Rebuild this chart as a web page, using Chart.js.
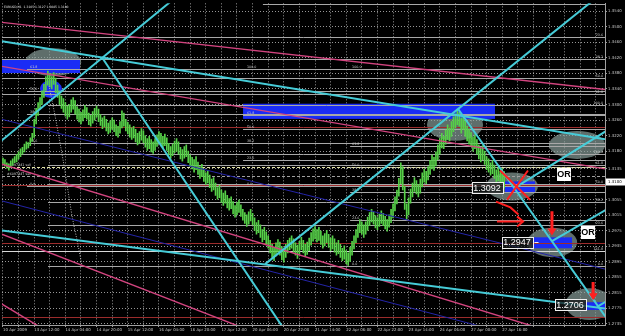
<!DOCTYPE html>
<html><head><meta charset="utf-8">
<script src="https://cdn.jsdelivr.net/npm/chart.js@4.4.1/dist/chart.umd.min.js"></script>
<style>html,body{margin:0;padding:0;background:#000;}canvas{display:block;}</style>
</head><body>
<canvas id="c" width="625" height="336"></canvas>
<script>
const title = 'EURUSD,H1  1.3105 1.3127 1.3085 1.3100';
const xTickLabels = ['10 Apr 2009','13 Apr 12:00','14 Apr 04:00','14 Apr 20:00','15 Apr 12:00','16 Apr 04:00','16 Apr 20:00','17 Apr 12:00','20 Apr 06:00','20 Apr 22:00','21 Apr 14:00','22 Apr 06:00','22 Apr 22:00','23 Apr 14:00','24 Apr 06:00','27 Apr 00:00','27 Apr 16:00'];
const yTickLabels = ['1.3540','1.3500','1.3460','1.3420','1.3380','1.3340','1.3300','1.3260','1.3220','1.3180','1.3135','1.3095','1.3055','1.3015','1.2975','1.2935','1.2895','1.2855','1.2815','1.2775','1.2735'];
const yTickValues = [1.3540,1.3500,1.3460,1.3420,1.3380,1.3340,1.3300,1.3260,1.3220,1.3180,1.3135,1.3095,1.3055,1.3015,1.2975,1.2935,1.2895,1.2855,1.2815,1.2775,1.2735];
const bidPrice = 1.3100;

// hourly bars (index 0 = 10 Apr 2009)
const highs = [
1.3162,1.3158,1.3150,1.3147,1.3155,1.3160,1.3166,1.3172,1.3178,1.3186,1.3190,1.3198,1.3204,1.3202,1.3214,1.3226,
1.3262,1.3290,1.3305,1.3318,1.3335,1.3352,1.3372,1.3386,1.3380,1.3372,1.3382,1.3368,1.3350,1.3335,1.3322,1.3315,
1.3305,1.3296,1.3300,1.3312,1.3318,1.3310,1.3295,1.3288,1.3280,1.3286,1.3298,1.3292,1.3278,1.3272,1.3282,1.3290,
1.3296,1.3288,1.3274,1.3266,1.3270,1.3262,1.3252,1.3258,1.3266,1.3260,1.3248,1.3244,1.3256,1.3284,1.3278,1.3262,
1.3254,1.3248,1.3240,1.3244,1.3236,1.3226,1.3230,1.3238,1.3232,1.3220,1.3212,1.3218,1.3210,1.3204,1.3212,1.3222,
1.3230,1.3226,1.3218,1.3224,1.3214,1.3200,1.3192,1.3198,1.3206,1.3212,1.3204,1.3190,1.3184,1.3192,1.3196,1.3180,
1.3170,1.3164,1.3158,1.3166,1.3152,1.3140,1.3146,1.3134,1.3124,1.3130,1.3118,1.3108,1.3112,1.3098,1.3086,1.3092,
1.3080,1.3072,1.3078,1.3066,1.3058,1.3062,1.3050,1.3040,1.3048,1.3054,1.3042,1.3030,1.3022,1.3016,1.3024,1.3030,
1.3020,1.3008,1.2996,1.3002,1.2990,1.2978,1.2984,1.2972,1.2962,1.2950,1.2940,1.2932,1.2944,1.2952,1.2946,1.2934,
1.2928,1.2940,1.2950,1.2956,1.2962,1.2954,1.2944,1.2938,1.2948,1.2958,1.2950,1.2940,1.2946,1.2956,1.2970,1.2980,
1.2986,1.2978,1.2984,1.2974,1.2962,1.2968,1.2976,1.2966,1.2956,1.2962,1.2954,1.2944,1.2950,1.2940,1.2930,1.2936,
1.2924,1.2918,1.2932,1.2948,1.2962,1.2978,1.2992,1.3004,1.2998,1.2990,1.2998,1.3010,1.3022,1.3030,1.3024,1.3014,
1.3008,1.3018,1.3026,1.3020,1.3012,1.3004,1.3016,1.3030,1.3044,1.3062,1.3080,1.3110,1.3150,1.3140,1.3090,1.3044,
1.3060,1.3082,1.3098,1.3112,1.3104,1.3094,1.3108,1.3124,1.3134,1.3128,1.3140,1.3156,1.3170,1.3164,1.3178,1.3196,
1.3212,1.3226,1.3218,1.3234,1.3248,1.3240,1.3256,1.3268,1.3276,1.3288,1.3280,1.3266,1.3272,1.3258,1.3244,1.3236,
1.3228,1.3216,1.3222,1.3210,1.3196,1.3188,1.3194,1.3180,1.3166,1.3160,1.3150,1.3156,1.3144,1.3132,1.3138,1.3128,
1.3136,1.3127];
const lows = [
1.3148,1.3141,1.3136,1.3131,1.3138,1.3144,1.3150,1.3152,1.3160,1.3166,1.3172,1.3178,1.3185,1.3188,1.3194,1.3205,
1.3215,1.3250,1.3272,1.3288,1.3300,1.3318,1.3336,1.3350,1.3345,1.3340,1.3352,1.3330,1.3318,1.3300,1.3290,1.3280,
1.3270,1.3262,1.3268,1.3280,1.3288,1.3275,1.3262,1.3255,1.3250,1.3258,1.3266,1.3262,1.3248,1.3244,1.3252,1.3260,
1.3268,1.3256,1.3246,1.3238,1.3242,1.3232,1.3224,1.3228,1.3236,1.3230,1.3220,1.3216,1.3226,1.3240,1.3244,1.3232,
1.3224,1.3216,1.3210,1.3214,1.3204,1.3196,1.3200,1.3208,1.3202,1.3190,1.3182,1.3186,1.3178,1.3174,1.3182,1.3192,
1.3200,1.3196,1.3188,1.3194,1.3182,1.3170,1.3162,1.3168,1.3176,1.3180,1.3172,1.3160,1.3154,1.3162,1.3166,1.3150,
1.3140,1.3134,1.3126,1.3132,1.3120,1.3110,1.3114,1.3102,1.3094,1.3098,1.3086,1.3076,1.3080,1.3066,1.3056,1.3060,
1.3048,1.3040,1.3046,1.3034,1.3028,1.3032,1.3018,1.3010,1.3016,1.3022,1.3012,1.3002,1.2994,1.2986,1.2992,1.3000,
1.2990,1.2976,1.2966,1.2970,1.2958,1.2946,1.2952,1.2940,1.2930,1.2918,1.2906,1.2898,1.2910,1.2920,1.2912,1.2900,
1.2894,1.2906,1.2918,1.2926,1.2930,1.2920,1.2912,1.2904,1.2914,1.2926,1.2918,1.2908,1.2914,1.2924,1.2938,1.2948,
1.2954,1.2946,1.2950,1.2940,1.2930,1.2936,1.2944,1.2932,1.2924,1.2928,1.2920,1.2912,1.2916,1.2906,1.2898,1.2902,
1.2890,1.2886,1.2896,1.2912,1.2928,1.2944,1.2958,1.2970,1.2966,1.2958,1.2966,1.2976,1.2988,1.2998,1.2992,1.2982,
1.2978,1.2986,1.2994,1.2988,1.2980,1.2974,1.2984,1.2996,1.3008,1.3026,1.3044,1.3064,1.3096,1.3080,1.3030,1.3004,
1.3016,1.3046,1.3062,1.3076,1.3070,1.3062,1.3072,1.3088,1.3100,1.3096,1.3106,1.3120,1.3134,1.3130,1.3142,1.3158,
1.3172,1.3188,1.3186,1.3198,1.3210,1.3206,1.3218,1.3230,1.3240,1.3248,1.3244,1.3226,1.3236,1.3218,1.3206,1.3198,
1.3192,1.3180,1.3186,1.3172,1.3160,1.3152,1.3158,1.3146,1.3132,1.3126,1.3118,1.3122,1.3110,1.3100,1.3104,1.3094,
1.3098,1.3085];

// trend lines: [bar1, price1, bar2, price2]
const cyanLines = [
[-2,1.3464,312,1.3208],[-1.5,1.3204,86.2,1.3566],[50.8,1.3421,143.4,1.2727],[-1.5,1.2976,311.3,1.2773],
[134.4,1.2889,302.1,1.3566],[233.3,1.3289,312.3,1.2730],[262.6,1.3086,311.3,1.3238],[281.5,1.2948,311.3,1.3035],
[304.6,1.2779,311.3,1.2799]];
const pinkLines = [[-1.5,1.3512,311.3,1.3337],[-1.5,1.3399,311.3,1.3132],[-1.5,1.3148,271.3,1.2730],[-1.5,1.2968,120.5,1.2730],[-1.5,1.2789,18,1.2730]];
const navyLines = [[-1.5,1.3263,311.3,1.2873],[-1.5,1.3053,244.1,1.2730]];
const dottedCurve = [[23.6,1.3348],[26.7,1.3271],[31.3,1.3143],[35.4,1.3014],[38.5,1.2938],[40.5,1.2886]];

// fibonacci levels: [fromBar, price, label, labelBar, side]
const fibLevels = [
[12.3,1.3391,'61.8',13.9,'L'],[12.3,1.3335,'50.0',13.9,'L'],[12.3,1.3276,'38.2',13.9,'L'],[12.3,1.3202,'23.6',13.9,'L'],[12.3,1.3089,'0.0',13.9,'L'],
[123.1,1.3391,'100.0',125.1,'L'],[123.1,1.3274,'61.8',125.1,'L'],[123.1,1.3237,'50.0',125.1,'L'],[123.1,1.3202,'38.2',125.1,'L'],[123.1,1.3158,'23.6',125.1,'L'],[123.1,1.3089,'0.0',125.1,'L'],
[178,1.3391,'100.0',179,'L'],[178,1.3194,'61.8',179,'L'],[178,1.3138,'50.0',179,'L'],[178,1.3076,'38.2',179,'L'],[178,1.3002,'23.6',179,'L'],[178,1.2884,'0.0',179,'L'],
[23.1,1.3299,'100.0',307.7,'R'],[23.1,1.3145,'61.8',307.7,'R'],[23.1,1.3096,'50.0',307.7,'R'],[23.1,1.3048,'38.2',307.7,'R'],[23.1,1.2989,'23.6',307.7,'R'],[23.1,1.2884,'0.0',307.7,'R'],
[-2,1.3473,'23.6',307.7,'R'],[-2,1.3417,'38.2',307.7,'R'],[-2,1.3368,'50.0',307.7,'R'],[-2,1.3327,'61.8',307.7,'R'],[-2,1.3173,'100.0',307.7,'R'],[-2,1.2922,'161.8',307.7,'R'],
[133.3,1.3558,'',0,'L']];
const maroonLevels = [1.3242,1.3094,1.2943,1.2753];
const orderLevels = [[1.3138,'#6097441 sell'],[1.3117,'#6097447 sell']];

// shapes: rects [bar1, bar2, priceLow, priceHigh], ellipses [bar, price, barRadius, priceRadius]
const blueRects = [[-2,39.5,1.3381,1.3417],[123.1,252.3,1.3263,1.3302],[257.4,272.8,1.3073,1.3102],[271.3,291.8,1.2930,1.2958],[298.5,312,1.2771,1.2791]];
const greyEllipses = [[25.7,1.3409,14.4,0.0036],[231.8,1.3248,14.4,0.0041],[294.4,1.3196,14.4,0.0036],[261.0,1.3089,13.3,0.0036],[281.6,1.2945,12.8,0.0038],[300.7,1.2786,12.3,0.0041]];
const blueBlobs = [[24.6,1.3340,5.6,0.0023]];
const priceNotes = [['1.3092',248.2,1.3086],['1.2947',263.6,1.2945],['1.2706',290.8,1.2784]];
const orNotes = [[287.7,1.3120],[300.0,1.2971]];
const redStrokes = [
[[254.9,1.3130],[270.3,1.3055]],[[258.5,1.3055],[269.2,1.3130]],
[[252.8,1.3050],[260.2,1.3035],[264.3,1.3017]],
[[253.3,1.2999],[266.7,1.2999]],[[263.6,1.3012],[266.7,1.2999],[263.6,1.2986]]];
const redArrows = [[281.5,1.3025,1.2963],[302.6,1.2843,1.2796]];

const FONT = 'DejaVu Sans';
const mkLine = (l, color, w, order) => ({type:'line', data:[{x:l[0],y:l[1]},{x:l[2],y:l[3]}], borderColor:color, borderWidth:w, pointRadius:0, fill:false, tension:0, order});
const datasets = [];
datasets.push({type:'bar', data: highs.map((h,i)=>({x:i, y:[lows[i], h]})), backgroundColor:'#56d048', borderWidth:0, barThickness:1, grouped:false, order:10});
navyLines.forEach(l => datasets.push(mkLine(l,'#2424a8',1,4)));
pinkLines.forEach(l => datasets.push(mkLine(l,'#d2447f',1.4,3)));
datasets.push({type:'line', data: dottedCurve.map(p=>({x:p[0],y:p[1]})), borderColor:'#b8b8b8', borderWidth:1, borderDash:[1,1.5], pointRadius:0, fill:false, tension:0.3, order:5});
cyanLines.forEach(l => datasets.push(mkLine(l,'#46ccd8',2,2)));
redStrokes.forEach(s => datasets.push({type:'line', data: s.map(p=>({x:p[0],y:p[1]})), borderColor:'#ff2020', borderWidth:2, pointRadius:0, fill:false, tension:0, order:0}));

const overlay = {
  id:'overlay',
  beforeDraw(chart){ const c=chart.ctx; c.save(); c.fillStyle='#000'; c.fillRect(0,0,chart.width,chart.height); c.restore(); },
  beforeDatasetsDraw(chart){
    const {ctx, chartArea:a, scales:{x,y}} = chart;
    const X=v=>x.getPixelForValue(v), Y=v=>y.getPixelForValue(v);
    ctx.save();
    ctx.beginPath(); ctx.rect(a.left,a.top,a.right-a.left,a.bottom-a.top); ctx.clip();
    ctx.fillStyle='rgba(140,162,158,0.68)';
    greyEllipses.forEach(([b,p,rb,rp])=>{const cx=X(b),cy=Y(p);ctx.beginPath();ctx.ellipse(cx,cy,Math.abs(X(b+rb)-cx),Math.abs(Y(p+rp)-cy),0,0,Math.PI*2);ctx.fill();});
    ctx.fillStyle='#1a2cf5';
    blueBlobs.forEach(([b,p,rb,rp])=>{const cx=X(b),cy=Y(p);ctx.beginPath();ctx.ellipse(cx,cy,Math.abs(X(b+rb)-cx),Math.abs(Y(p+rp)-cy),0,0,Math.PI*2);ctx.fill();});
    blueRects.forEach(([b1,b2,p1,p2])=>{const x1=X(b1),x2=X(b2),y1=Y(p2),y2=Y(p1);ctx.fillRect(x1,y1,x2-x1,y2-y1);});
    const hl=(p,from,color,dash)=>{const yy=Math.round(Y(p))+0.5;ctx.strokeStyle=color;ctx.lineWidth=1;ctx.setLineDash(dash||[]);ctx.beginPath();ctx.moveTo(Math.max(a.left,X(from)),yy);ctx.lineTo(a.right,yy);ctx.stroke();};
    maroonLevels.forEach(p=>hl(p,-2,'#9c2c2c'));
    fibLevels.forEach(f=>hl(f[1],f[0],f[2]==='161.8'?'#d8d8d8':'#a8a8a8'));
    orderLevels.forEach((o,i)=>hl(o[0],-2,i===0?'#e4e4a4':'#a0a0a0',[3,2]));
    ctx.setLineDash([]);
    ctx.font='3.3px "'+FONT+'"'; ctx.fillStyle='#cfcfcf'; ctx.textBaseline='bottom';
    fibLevels.forEach(f=>{ if(!f[2]) return; ctx.textAlign=f[4]==='R'?'right':'left'; ctx.fillText(f[2],X(f[3]),Math.round(Y(f[1]))-0.5); });
    ctx.textAlign='left';
    orderLevels.forEach(o=>ctx.fillText(o[1],a.left+5,Math.round(Y(o[0]))-0.5));
    ctx.restore();
  },
  afterDatasetsDraw(chart){
    const {ctx, chartArea:a, scales:{x,y}} = chart;
    const X=v=>x.getPixelForValue(v), Y=v=>y.getPixelForValue(v);
    ctx.save();
    ctx.beginPath(); ctx.rect(a.left,a.top,a.right-a.left,a.bottom-a.top); ctx.clip();
    ctx.fillStyle='#ff2020'; ctx.strokeStyle='#ff2020';
    redArrows.forEach(([b,pt,pe])=>{const cx=X(b),y1=Y(pt),y2=Y(pe);ctx.lineWidth=3;ctx.beginPath();ctx.moveTo(cx,y1);ctx.lineTo(cx,y2-5);ctx.stroke();ctx.beginPath();ctx.moveTo(cx-4.5,y2-7);ctx.lineTo(cx+4.5,y2-7);ctx.lineTo(cx,y2);ctx.closePath();ctx.fill();});
    ctx.font='9px "Liberation Sans"'; ctx.textBaseline='middle'; ctx.textAlign='center';
    priceNotes.forEach(([t,b,p],i)=>{const cx=X(b),cy=Y(p);const w=Math.round(ctx.measureText(t).width+3),h=11;const x0=Math.round(cx-w/2)+0.5,y0=Math.round(cy-h/2)+0.5;
      ctx.fillStyle='rgba(20,24,24,0.75)';ctx.fillRect(x0,y0,w,h);ctx.strokeStyle='#f0f0f0';ctx.lineWidth=1;ctx.strokeRect(x0,y0,w,h);
      ctx.fillStyle='#ffffff';ctx.fillText(t,cx,cy+0.5);
      if(i===1){ctx.beginPath();ctx.moveTo(x0+w+1,Math.round(cy)+0.5);ctx.lineTo(x0+w+5,Math.round(cy)+0.5);ctx.stroke();}});
    ctx.font='bold 9px "Liberation Sans"';
    orNotes.forEach(([b,p])=>{const cx=X(b),cy=Y(p);const w=14,h=13;ctx.fillStyle='#ffffff';ctx.fillRect(Math.round(cx-w/2),Math.round(cy-h/2),w,h);ctx.fillStyle='#000';ctx.fillText('OR',cx,cy+0.5);});
    ctx.restore();
  },
  afterDraw(chart){
    const {ctx, chartArea:a, scales:{y}} = chart;
    ctx.save();
    ctx.font='3px "'+FONT+'"'; ctx.fillStyle='#e0e0e0'; ctx.textBaseline='top'; ctx.textAlign='left';
    ctx.fillText(title,a.left+2,a.top+2);
    const by=y.getPixelForValue(bidPrice);
    ctx.fillStyle='#ffffff'; ctx.fillRect(a.right+1,Math.round(by)-3.5,chart.width-a.right-1,7);
    ctx.fillStyle='#000'; ctx.font='3.9px "'+FONT+'"'; ctx.textBaseline='middle';
    ctx.fillText('1.3100',a.right+3,by);
    ctx.restore();
  }
};

const gridCommon = {color:'rgba(215,215,215,0.7)', lineWidth:1, tickLength:2, tickColor:'#9a9a9a', offset:false};
new Chart(document.getElementById('c'), {
  type:'line',
  data:{datasets},
  plugins:[overlay],
  options:{
    responsive:false, animation:false, devicePixelRatio:1, events:[],
    layout:{padding:{left:2,top:2,right:0,bottom:0}},
    plugins:{legend:{display:false}, tooltip:{enabled:false}},
    scales:{
      x:{type:'linear', min:-0.5, max:308.7, offset:false,
        afterBuildTicks:s=>{const t=[];for(let v=0;v<=308;v+=8)t.push({value:v});s.ticks=t;},
        afterFit:s=>{s.height=11;},
        ticks:{autoSkip:false,maxRotation:0,minRotation:0,align:'start',padding:1,color:'#c8c8c8',font:{family:FONT,size:3.9},
          callback:v=>(v%16===0 && xTickLabels[v/16])?xTickLabels[v/16]:''},
        grid:gridCommon, border:{display:true,color:'#a0a0a0',dash:[1,2]}},
      y:{type:'linear', position:'right', min:1.27323, max:1.35605,
        afterBuildTicks:s=>{s.ticks=yTickValues.map(v=>({value:v}));},
        afterFit:s=>{s.width=20;},
        ticks:{autoSkip:false,padding:1,color:'#c8c8c8',font:{family:FONT,size:3.9},callback:(v,i)=>yTickLabels[i]},
        grid:gridCommon, border:{display:true,color:'#a0a0a0',dash:[1,2]}}
    }
  }
});
</script>
</body></html>
